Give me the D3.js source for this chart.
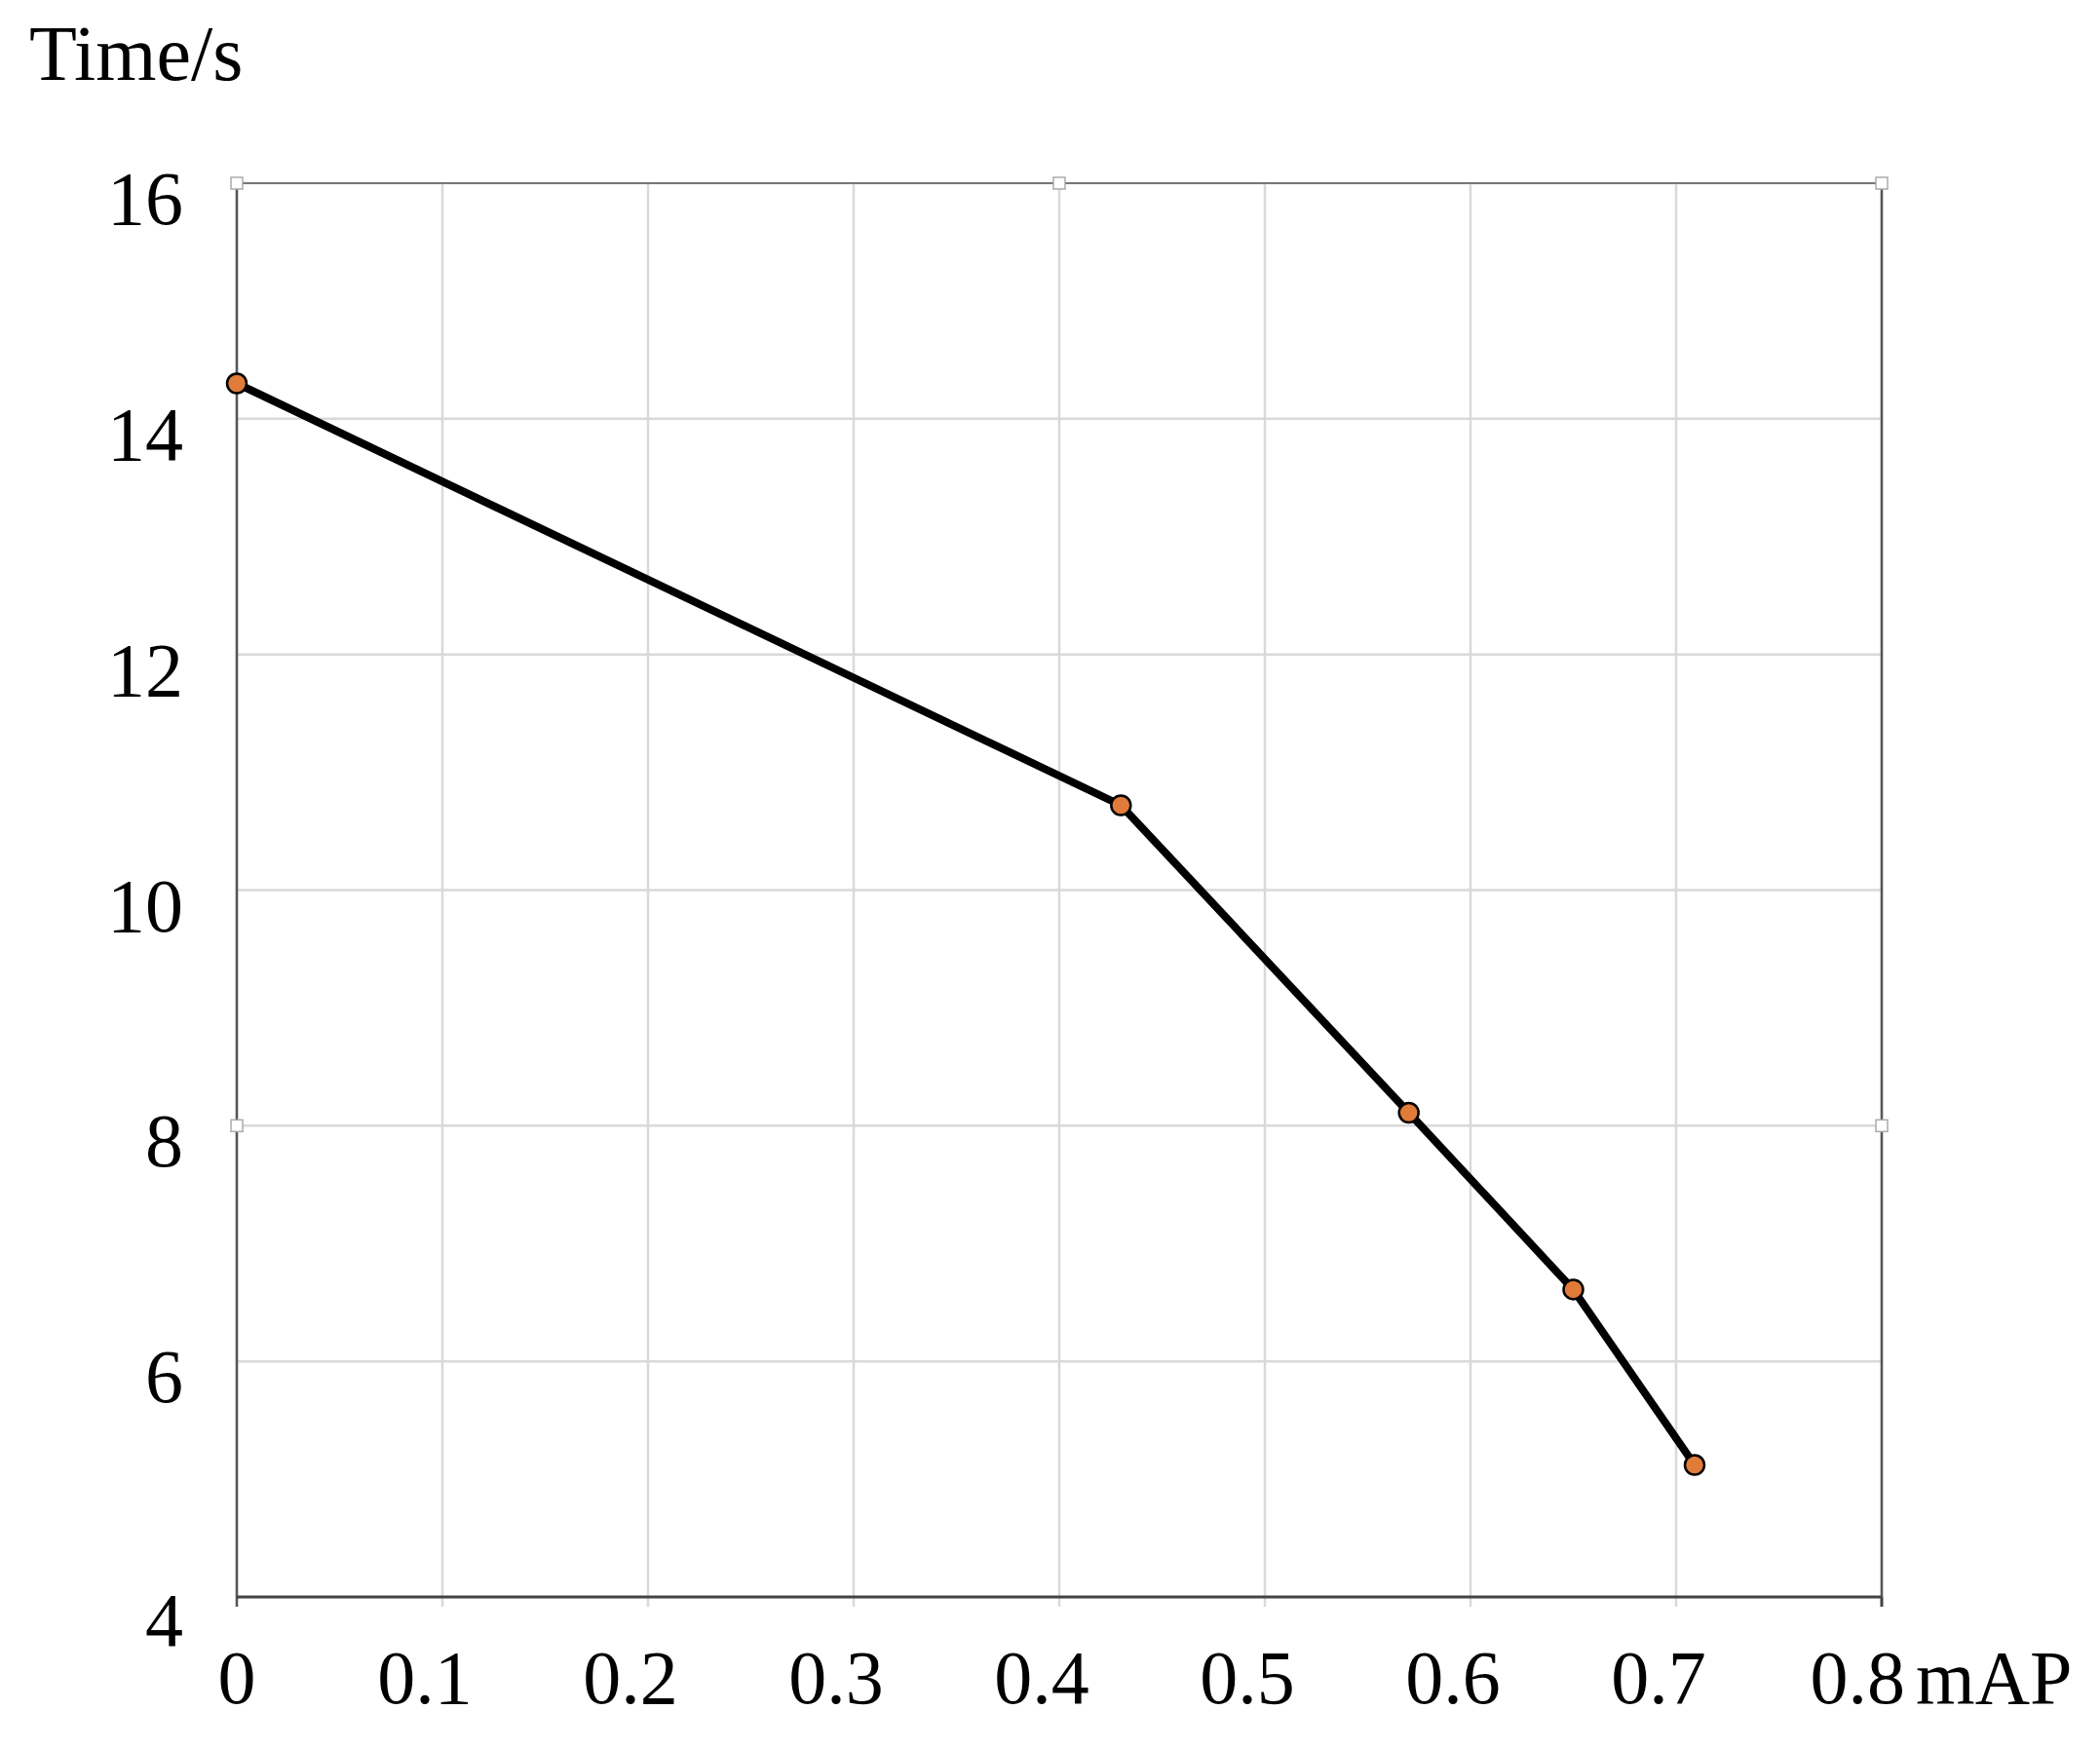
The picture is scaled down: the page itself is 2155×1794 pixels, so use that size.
<!DOCTYPE html>
<html><head><meta charset="utf-8">
<script src="https://cdn.jsdelivr.net/npm/d3@7"></script>
<style>body{margin:0;background:#fff}</style>
</head><body>
<svg id="chart" width="2155" height="1794"></svg>
<script>
var mapValues = [0, 0.43, 0.57, 0.65, 0.709];
var timeValues = [14.3, 10.72, 8.11, 6.61, 5.12];
var xTicks = [0, 0.1, 0.2, 0.3, 0.4, 0.5, 0.6, 0.7, 0.8];
var yTicks = [4, 6, 8, 10, 12, 14, 16];

var svg = d3.select("#chart");
var font = "'Liberation Serif', 'Times New Roman', serif";
var x = d3.scaleLinear().domain([0, 0.8]).range([243, 1931]);
var y = d3.scaleLinear().domain([4, 16]).range([1639, 188]);

// grid
svg.selectAll(".gx").data(xTicks).enter().append("line")
  .attr("x1", d => x(d)).attr("x2", d => x(d)).attr("y1", y(16)).attr("y2", y(4) + 10)
  .style("stroke", "#d9d9d9").style("stroke-width", 2.5);
svg.selectAll(".gy").data(yTicks).enter().append("line")
  .attr("x1", x(0)).attr("x2", x(0.8)).attr("y1", d => y(d)).attr("y2", d => y(d))
  .style("stroke", "#d9d9d9").style("stroke-width", 2.5);

// frame
svg.append("line").attr("x1", x(0)).attr("x2", x(0.8)).attr("y1", y(16)).attr("y2", y(16)).style("stroke", "#777").style("stroke-width", 2);
svg.append("line").attr("x1", x(0.8)).attr("x2", x(0.8)).attr("y1", y(16)).attr("y2", y(4)).style("stroke", "#555").style("stroke-width", 2.5);
svg.append("line").attr("x1", x(0)).attr("x2", x(0)).attr("y1", y(16)).attr("y2", y(4) + 10).style("stroke", "#555").style("stroke-width", 2.5);
svg.append("line").attr("x1", x(0)).attr("x2", x(0.8)).attr("y1", y(4)).attr("y2", y(4)).style("stroke", "#444").style("stroke-width", 3);
svg.append("line").attr("x1", x(0.8)).attr("x2", x(0.8)).attr("y1", y(4)).attr("y2", y(4) + 10).style("stroke", "#444").style("stroke-width", 3);

// handles
var handles = [[0, 16], [0.4, 16], [0.8, 16], [0, 8], [0.8, 8]];
svg.selectAll(".h").data(handles).enter().append("rect")
  .attr("x", d => x(d[0]) - 6).attr("y", d => y(d[1]) - 6).attr("width", 12).attr("height", 12)
  .style("fill", "#fff").style("stroke", "#aaa").style("stroke-width", 1.5);

// tick labels
svg.selectAll(".yl").data(yTicks).enter().append("text")
  .attr("x", 188).attr("y", d => y(d) + 42 + (d === 4 ? 8 : 0))
  .attr("text-anchor", "end").style("font-family", font).style("font-size", "78px")
  .text(d => d);
svg.selectAll(".xl").data(xTicks).enter().append("text")
  .attr("x", d => d === 0.8 ? 1955 : x(d) - (d === 0 ? 0 : 18)).attr("y", 1748)
  .attr("text-anchor", d => d === 0.8 ? "end" : "middle")
  .style("font-family", font).style("font-size", "78px").text(d => d);
svg.append("text").attr("x", 1966).attr("y", 1748).style("font-family", font).style("font-size", "78px").text("mAP");
svg.append("text").attr("x", 30).attr("y", 82).style("font-family", font).style("font-size", "80px").text("Time/s");

// series
var pts = mapValues.map((v, i) => [v, timeValues[i]]);
svg.append("path").datum(pts)
  .attr("d", d3.line().x(d => x(d[0])).y(d => y(d[1])))
  .style("fill", "none").style("stroke", "#000").style("stroke-width", 8);
svg.selectAll(".pt").data(pts).enter().append("circle")
  .attr("cx", d => x(d[0])).attr("cy", d => y(d[1])).attr("r", 10)
  .style("fill", "#e07b39").style("stroke", "#000").style("stroke-width", 2.5);
</script>
</body></html>
